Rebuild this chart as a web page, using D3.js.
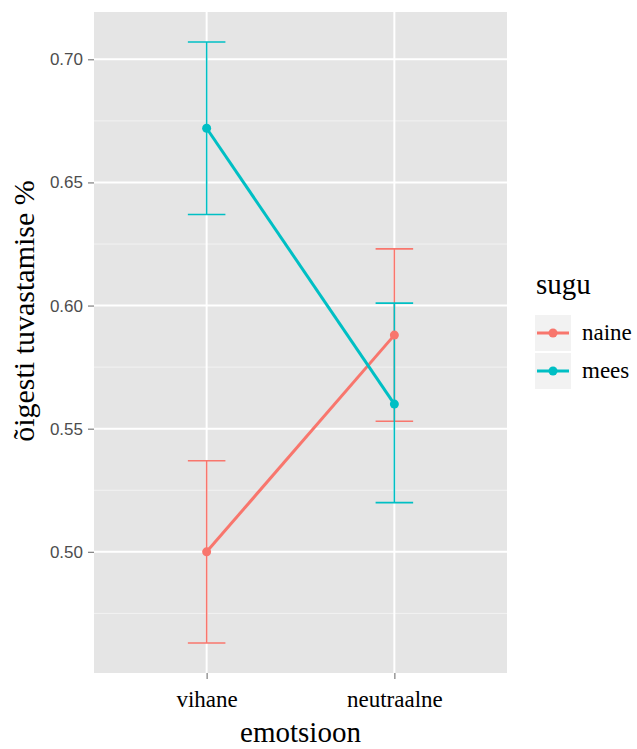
<!DOCTYPE html>
<html>
<head>
<meta charset="utf-8">
<script src="https://cdn.jsdelivr.net/npm/d3@7"></script>
<style>
  body { margin: 0; background: #fff; }
  .y.axis text { font-family: "Liberation Sans", Arial, sans-serif; font-size: 17px; fill: #4d4d4d; }
  .x.axis text { font-family: "Liberation Serif", "Times New Roman", serif; font-size: 23px; fill: #000; }
  .axis path { display: none; }
  .axis line { stroke: #7f7f7f; stroke-width: 1.2; }
</style>
</head>
<body>
<script>
// andmed
var emotsioonid = ["vihane", "neutraalne"];
var sugu = ["naine", "mees"];
var varvid = ["#F8766D", "#00BFC4"];
var naine = [0.500, 0.588];
var naineAlum = [0.463, 0.553];
var naineUlem = [0.537, 0.623];
var mees = [0.672, 0.560];
var meesAlum = [0.637, 0.520];
var meesUlem = [0.707, 0.601];
var yTicks = [0.50, 0.55, 0.60, 0.65, 0.70];
var yMinor = [0.475, 0.525, 0.575, 0.625, 0.675];

var series = [
  {name: sugu[0], color: varvid[0], y: naine, lo: naineAlum, hi: naineUlem},
  {name: sugu[1], color: varvid[1], y: mees, lo: meesAlum, hi: meesUlem}
];
series.forEach(function(s) {
  s.points = emotsioonid.map(function(e, i) {
    return {emo: e, y: s.y[i], lo: s.lo[i], hi: s.hi[i]};
  });
});

var panel = {left: 94, top: 12, right: 507, bottom: 673};

var svg = d3.select('body').append('svg')
  .attr('width', 637)
  .attr('height', 749);

var xScale = d3.scalePoint()
  .domain(emotsioonid)
  .range([panel.left, panel.right])
  .padding(0.6);

var lo = d3.min(series, function(s) { return d3.min(s.lo); });
var hi = d3.max(series, function(s) { return d3.max(s.hi); });
var pad = (hi - lo) * 0.05;
var yScale = d3.scaleLinear()
  .domain([lo - pad, hi + pad])
  .range([panel.bottom, panel.top]);

// paneel
svg.append('rect')
  .attr('x', panel.left)
  .attr('y', panel.top)
  .attr('width', panel.right - panel.left)
  .attr('height', panel.bottom - panel.top)
  .attr('fill', '#e5e5e5');

svg.selectAll('.minor')
  .data(yMinor)
  .enter()
  .append('line')
  .attr('class', 'minor')
  .attr('x1', panel.left)
  .attr('x2', panel.right)
  .attr('y1', function(d) { return yScale(d); })
  .attr('y2', function(d) { return yScale(d); })
  .attr('stroke', '#f2f2f2')
  .attr('stroke-width', 1);

svg.selectAll('.major-y')
  .data(yTicks)
  .enter()
  .append('line')
  .attr('class', 'major-y')
  .attr('x1', panel.left)
  .attr('x2', panel.right)
  .attr('y1', function(d) { return yScale(d); })
  .attr('y2', function(d) { return yScale(d); })
  .attr('stroke', '#fff')
  .attr('stroke-width', 2);

svg.selectAll('.major-x')
  .data(emotsioonid)
  .enter()
  .append('line')
  .attr('class', 'major-x')
  .attr('x1', function(d) { return xScale(d); })
  .attr('x2', function(d) { return xScale(d); })
  .attr('y1', panel.top)
  .attr('y2', panel.bottom)
  .attr('stroke', '#fff')
  .attr('stroke-width', 2);

// teljed
var yAxis = d3.axisLeft(yScale)
  .tickValues(yTicks)
  .tickFormat(d3.format('.2f'))
  .tickSize(6)
  .tickPadding(5);
svg.append('g')
  .attr('class', 'y axis')
  .attr('transform', 'translate(' + panel.left + ',0)')
  .call(yAxis);

var xAxis = d3.axisBottom(xScale)
  .tickSize(6)
  .tickPadding(12);
svg.append('g')
  .attr('class', 'x axis')
  .attr('transform', 'translate(0,' + panel.bottom + ')')
  .call(xAxis);

// veapiirid
var capW = xScale.step() * 0.1;
series.forEach(function(s) {
  var g = svg.append('g').attr('stroke', s.color).attr('stroke-width', 1.6).attr('fill', 'none');
  s.points.forEach(function(p) {
    var cx = xScale(p.emo);
    g.append('line').attr('x1', cx).attr('x2', cx).attr('y1', yScale(p.lo)).attr('y2', yScale(p.hi));
    g.append('line').attr('x1', cx - capW).attr('x2', cx + capW).attr('y1', yScale(p.lo)).attr('y2', yScale(p.lo));
    g.append('line').attr('x1', cx - capW).attr('x2', cx + capW).attr('y1', yScale(p.hi)).attr('y2', yScale(p.hi));
  });
});

var line = d3.line()
  .x(function(d) { return xScale(d.emo); })
  .y(function(d) { return yScale(d.y); });

series.forEach(function(s) {
  svg.append('path')
    .datum(s.points)
    .attr('d', line)
    .attr('fill', 'none')
    .attr('stroke', s.color)
    .attr('stroke-width', 3);
});

series.forEach(function(s) {
  svg.selectAll(null)
    .data(s.points)
    .enter()
    .append('circle')
    .attr('cx', function(d) { return xScale(d.emo); })
    .attr('cy', function(d) { return yScale(d.y); })
    .attr('r', 4.5)
    .attr('fill', s.color);
});

// telgede pealkirjad
svg.append('text')
  .attr('x', (panel.left + panel.right) / 2)
  .attr('y', 742)
  .attr('text-anchor', 'middle')
  .style('font-family', '"Liberation Serif", "Times New Roman", serif')
  .style('font-size', '29px')
  .text('emotsioon');

svg.append('text')
  .attr('transform', 'translate(34,311) rotate(-90)')
  .attr('text-anchor', 'middle')
  .style('font-family', '"Liberation Serif", "Times New Roman", serif')
  .style('font-size', '30px')
  .text('õigesti tuvastamise %');

// legend
var legend = svg.append('g')
  .attr('transform', 'translate(535,0)');

legend.append('text')
  .attr('x', 1)
  .attr('y', 294)
  .style('font-family', '"Liberation Serif", "Times New Roman", serif')
  .style('font-size', '29px')
  .text('sugu');

series.forEach(function(s, i) {
  var top = 315 + i * 38;
  legend.append('rect')
    .attr('x', 0)
    .attr('y', top)
    .attr('width', 36)
    .attr('height', 36)
    .attr('fill', '#f2f2f2');
  legend.append('line')
    .attr('x1', 2)
    .attr('x2', 34)
    .attr('y1', top + 18)
    .attr('y2', top + 18)
    .attr('stroke', s.color)
    .attr('stroke-width', 3);
  legend.append('circle')
    .attr('cx', 18)
    .attr('cy', top + 18)
    .attr('r', 4.5)
    .attr('fill', s.color);
  legend.append('text')
    .attr('x', 47)
    .attr('y', top + 25)
    .style('font-family', '"Liberation Serif", "Times New Roman", serif')
    .style('font-size', '23px')
    .text(s.name);
});
</script>
</body>
</html>
